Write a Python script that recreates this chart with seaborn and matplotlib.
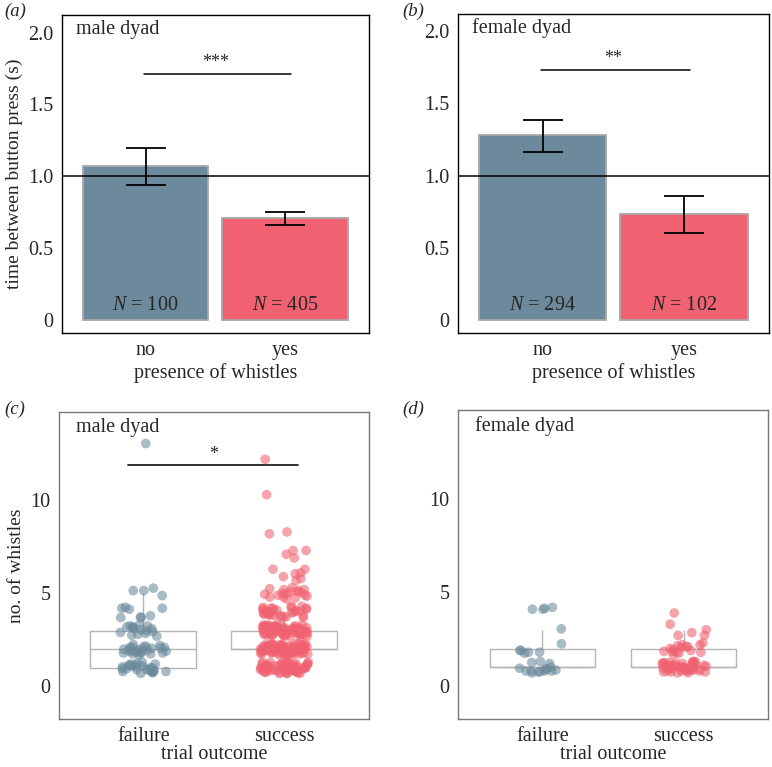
import numpy as np
import pandas as pd
import matplotlib
matplotlib.use('Agg')
import matplotlib.pyplot as plt
import seaborn as sns

sns.set_style('white')
plt.rcParams['font.family'] = ['Liberation Serif', 'DejaVu Serif']
plt.rcParams['mathtext.fontset'] = 'custom'
plt.rcParams['mathtext.rm'] = 'Liberation Serif'
plt.rcParams['mathtext.it'] = 'Liberation Serif:italic'

blue = '#6c8a9b'
red = '#f06271'

##########################################################################################################################
# top row: time between button presses

whistle_cats = ['no', 'yes']

male_mean = [1.07, 0.71]
male_err_low = [0.94, 0.66]
male_err_high = [1.195, 0.75]
male_n = [100, 405]

female_mean = [1.28, 0.73]
female_err_low = [1.16, 0.60]
female_err_high = [1.385, 0.86]
female_n = [294, 102]

##########################################################################################################################
# bottom row: no. of whistles per trial (vertically jittered)

outcome_cats = ['failure', 'success']

male_fail = [13.05,
             5.28, 5.15, 5.15, 4.88,
             4.2, 4.25, 4.15, 4.2, 3.72, 3.7, 3.7, 3.8,
             3.2, 3.1, 3.25, 2.9, 3.0, 2.75, 3.3, 3.15, 2.95, 3.05, 3.2, 2.85, 2.7, 3.1, 3.25, 2.8,
             2.1, 1.9, 2.05, 1.8, 2.2, 1.95, 2.0, 1.75, 2.15, 1.85, 2.1, 1.7, 2.0, 1.9, 2.25, 1.8,
             2.05, 1.95, 2.1, 1.75, 1.85, 2.0, 1.9, 2.15, 1.8,
             1.1, 0.9, 0.8, 1.2, 0.75, 1.0, 1.25, 0.85, 1.05, 0.9, 1.15, 0.7, 0.95, 1.2, 0.8,
             1.1, 0.75, 1.0, 0.85, 1.3, 0.9, 1.05, 0.8, 1.15, 0.95]

male_succ = [12.2, 10.3, 8.3, 8.2, 7.3, 7.3, 7.1, 6.9, 6.3, 6.3, 6.1, 6.05, 5.9, 5.8, 5.7,
             5.3, 5.2, 5.1, 4.9, 5.0, 4.8, 5.25, 4.75, 5.15, 4.85, 5.05, 4.7, 4.95, 5.2, 4.9, 5.1, 4.8, 5.0,
             4.2, 3.9, 4.1, 3.8, 4.25, 4.0, 3.75, 4.15, 3.85, 4.05, 4.3, 3.7, 4.1, 3.95, 4.2, 3.8,
             4.0, 4.25, 3.9, 4.15, 3.75, 4.05, 3.85, 4.2, 4.0, 3.7, 4.1, 3.9, 4.3, 3.8, 4.05, 3.95,
             3.1, 2.8, 3.25, 2.95, 3.0, 2.75, 3.2, 3.05, 2.85, 3.3,
             2.9, 3.15, 2.7, 3.0, 3.25, 2.8, 3.1, 2.95, 3.2, 2.75,
             3.05, 2.9, 3.3, 2.85, 3.15, 3.0, 2.7, 3.2, 2.95, 3.1,
             2.8, 3.25, 3.05, 2.9, 3.0, 2.75, 3.15, 2.85, 3.3, 2.95,
             3.1, 2.8, 3.2, 3.0, 2.9, 3.25, 2.7, 3.05, 2.85, 3.15,
             2.95, 3.1, 2.75, 3.2, 3.0, 2.9, 3.3, 2.8, 3.05, 3.15,
             2.85, 3.25, 2.95, 3.0, 2.7, 3.1, 2.9, 3.2, 2.8, 3.05,
             2.1, 1.8, 2.25, 1.95, 2.0, 1.75, 2.2, 2.05, 1.85, 2.3,
             1.9, 2.15, 1.7, 2.0, 2.25, 1.8, 2.1, 1.95, 2.2, 1.75,
             2.05, 1.9, 2.3, 1.85, 2.15, 2.0, 1.7, 2.2, 1.95, 2.1,
             1.8, 2.25, 2.05, 1.9, 2.0, 1.75, 2.15, 1.85, 2.3, 1.95,
             2.1, 1.8, 2.2, 2.0, 1.9, 2.25, 1.7, 2.05, 1.85, 2.15,
             1.95, 2.1, 1.75, 2.2, 2.0, 1.9, 2.3, 1.8, 2.05, 2.15,
             1.85, 2.25, 1.95, 2.0, 1.7, 2.1, 1.9, 2.2, 1.8, 2.05,
             2.0, 1.85, 2.15, 1.95, 2.1, 1.75, 2.25, 1.9, 2.05, 1.8,
             1.1, 0.8, 1.25, 0.95, 1.0, 0.75, 1.2, 1.05, 0.85, 1.3,
             0.9, 1.15, 0.7, 1.0, 1.25, 0.8, 1.1, 0.95, 1.2, 0.75,
             1.05, 0.9, 1.3, 0.85, 1.15, 1.0, 0.7, 1.2, 0.95, 1.1,
             0.8, 1.25, 1.05, 0.9, 1.0, 0.75, 1.15, 0.85, 1.3, 0.95,
             1.1, 0.8, 1.2, 1.0, 0.9, 1.25, 0.7, 1.05, 0.85, 1.15,
             0.95, 1.1, 0.75, 1.2, 1.0, 0.9, 1.3, 0.8, 1.05, 1.15,
             0.85, 1.25, 0.95, 1.0, 0.7]

female_fail = [4.15, 4.2, 4.1, 4.1,
               3.05,
               2.25, 1.75, 1.8, 1.9, 1.8, 1.9,
               1.3, 1.2, 1.25, 1.0, 0.9, 0.95, 0.9, 0.8, 0.75, 0.7, 0.8, 0.75, 0.8, 0.8, 0.85]

female_succ = [3.9,
               3.3, 2.7, 2.7, 3.0, 2.85,
               2.3, 2.2, 2.15, 1.85, 1.9, 2.1, 1.8, 2.0, 1.75, 2.2, 1.85, 1.95, 2.05, 1.8, 2.1, 1.7,
               1.1, 0.8, 1.25, 0.95, 1.0, 0.75, 1.2, 1.05, 0.85, 1.3,
               0.9, 1.15, 0.7, 1.0, 1.25, 0.8, 1.1, 0.95, 1.2, 0.75,
               1.05, 0.9, 1.3, 0.85, 1.15, 1.0, 0.7, 1.2, 0.95, 1.1,
               0.8, 1.25, 1.05, 0.9, 1.0, 0.75, 1.15, 0.85, 1.3, 0.95,
               1.1, 0.8, 1.2, 1.0, 0.9]

fig = plt.figure(figsize=(7.72, 7.67), dpi=100)
ax_a = fig.add_axes([0.080, 0.566, 0.398, 0.414])
ax_b = fig.add_axes([0.593, 0.566, 0.403, 0.416])
ax_c = fig.add_axes([0.076, 0.0626, 0.402, 0.4004])
ax_d = fig.add_axes([0.593, 0.063, 0.402, 0.4025])


def bar_panel(ax, means, lows, highs, ns, dyad, stars, sig_y, ylabel):
    sns.barplot(x=whistle_cats, y=means, hue=whistle_cats, palette=[blue, red], width=0.9,
                saturation=1, edgecolor='#a8a8a8', linewidth=1.3, legend=False, ax=ax)
    xs = np.arange(len(whistle_cats))
    yerr = [np.array(means) - np.array(lows), np.array(highs) - np.array(means)]
    ax.errorbar(xs, means, yerr=yerr, fmt='none', ecolor='black', elinewidth=1.3,
                capsize=14.5, capthick=1.3, zorder=5)
    ax.axhline(1.0, color='black', lw=1.1, zorder=4)
    for x, n in zip(xs, ns):
        ax.text(x, 0.035, f'$N$ = {n}', ha='center', va='bottom', fontsize=14.5)
    ax.plot([-0.01, 1.04], [sig_y, sig_y], color='black', lw=1.1)
    ax.text(0.5, sig_y + 0.02, stars, ha='center', va='bottom', fontsize=13)
    ax.text(0.045, 0.955, dyad, transform=ax.transAxes, ha='left', va='center', fontsize=14.5)
    ax.set_xlim(-0.6, 1.6)
    ax.set_ylim(-0.09, 2.12)
    ax.set_yticks([0, 0.5, 1.0, 1.5, 2.0])
    ax.set_yticklabels(['0', '0.5', '1.0', '1.5', '2.0'])
    ax.set_xlabel('presence of whistles', fontsize=14.5, labelpad=2)
    ax.set_ylabel(ylabel, fontsize=14)
    ax.tick_params(axis='both', labelsize=14.5, length=0, pad=6)
    for s in ax.spines.values():
        s.set_color('black')
        s.set_linewidth(1.0)


def box_panel(ax, fail, succ, dyad, ylabel):
    df = pd.DataFrame({
        'outcome': ['failure'] * len(fail) + ['success'] * len(succ),
        'whistles': fail + succ,
    })
    df['count'] = np.round(df['whistles'])
    sns.boxplot(data=df, x='outcome', y='count', order=outcome_cats, width=0.75, showfliers=False,
                showcaps=False, fill=False, color='#b4b4b4', linewidth=1.0, ax=ax)
    np.random.seed(3)
    sns.stripplot(data=df, x='outcome', y='whistles', hue='outcome', order=outcome_cats,
                  palette=[blue, red], jitter=0.17, size=7, alpha=0.58, linewidth=0,
                  legend=False, ax=ax, zorder=3)
    ax.text(0.055, 0.948, dyad, transform=ax.transAxes, ha='left', va='center', fontsize=14.5)
    ax.set_xlim(-0.6, 1.6)
    ax.set_ylim(-1.75, 14.75)
    ax.set_yticks([0, 5, 10])
    ax.set_xlabel('trial outcome', fontsize=14.5, labelpad=-1)
    ax.set_ylabel(ylabel, fontsize=14)
    ax.tick_params(axis='both', labelsize=14.5, length=0, pad=6)
    ax.tick_params(axis='x', length=3, color='#cccccc', pad=3)
    for s in ax.spines.values():
        s.set_color('#777777')
        s.set_linewidth(1.0)


bar_panel(ax_a, male_mean, male_err_low, male_err_high, male_n, 'male dyad', '***', 1.71,
          'time between button press (s)')
bar_panel(ax_b, female_mean, female_err_low, female_err_high, female_n, 'female dyad', '**', 1.73, '')

box_panel(ax_c, male_fail, male_succ, 'male dyad', 'no. of whistles')
ax_c.plot([-0.11, 1.1], [11.88, 11.88], color='#222222', lw=1.3)
ax_c.text(0.5, 12.0, '*', ha='center', va='bottom', fontsize=13)
box_panel(ax_d, female_fail, female_succ, 'female dyad', '')

for lab, x, y in [('(a)', 0.005, 0.985), ('(b)', 0.521, 0.985), ('(c)', 0.005, 0.466), ('(d)', 0.521, 0.466)]:
    fig.text(x, y, lab, fontsize=13.5, style='italic', ha='left', va='center')

fig.savefig('out.png', dpi=100)
